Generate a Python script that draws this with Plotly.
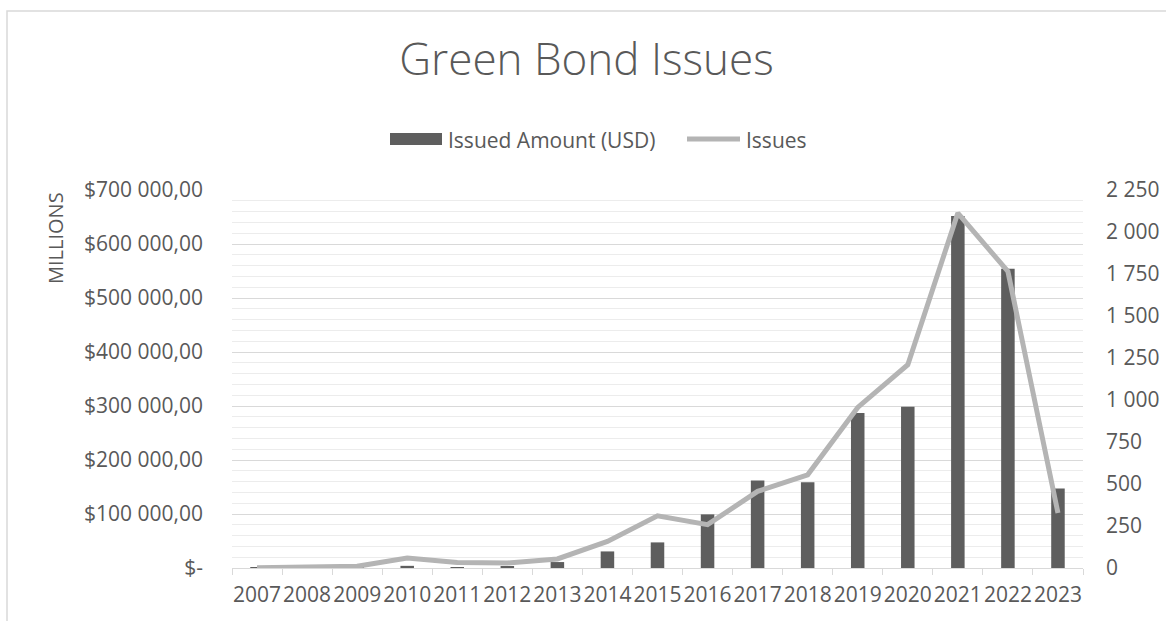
import plotly.graph_objects as go

years = [str(y) for y in range(2007, 2024)]
issued_amount = [800, 400, 900, 4000, 1500, 2000, 11000, 30700, 47400, 99300,
                 162000, 159000, 287000, 298700, 652000, 554000, 147000]
issues = [2, 3, 10, 60, 33, 30, 54, 158, 311, 258, 456, 555, 956, 1210,
          2113, 1765, 327]

left_vals = [0, 100000, 200000, 300000, 400000, 500000, 600000, 700000]
left_text = ["$-", "$100 000,00", "$200 000,00", "$300 000,00", "$400 000,00",
             "$500 000,00", "$600 000,00", "$700 000,00"]
right_vals = [0, 250, 500, 750, 1000, 1250, 1500, 1750, 2000, 2250]
right_text = ["0", "250", "500", "750", "1 000", "1 250", "1 500", "1 750",
              "2 000", "2 250"]

FONT = "Open Sans"
TXT = "#595959"
BAR_C = "#5e5e5e"
LINE_C = "#b4b4b4"

# plot area in pixels: x 232..1083, y 190..568
def px(x):
    return (x - 232) / 851

def py(y):
    return (568 - y) / 378

fig = go.Figure()
fig.add_trace(go.Bar(x=years, y=issued_amount, name="Issued Amount (USD)",
                     marker=dict(color=BAR_C, line=dict(width=0)),
                     width=0.27, yaxis="y"))
fig.add_trace(go.Scatter(x=years, y=issues, name="Issues", mode="lines",
                         line=dict(color=LINE_C, width=5),
                         yaxis="y2"))

fig.update_layout(
    width=1166, height=621,
    margin=dict(l=232, r=83, t=190, b=53, autoexpand=False),
    paper_bgcolor="white", plot_bgcolor="white",
    font=dict(family=FONT, size=21, color=TXT),
    title=dict(text="Green Bond Issues", x=0.503, xref="container",
               xanchor="center", y=1 - 60 / 621, yanchor="middle",
               font=dict(family=FONT, size=44, color=TXT, weight=300)),
    showlegend=False,
    xaxis=dict(type="category", tickson="boundaries", ticks="outside",
               ticklen=6, tickcolor="#d9d9d9", showline=True,
               linecolor="#d9d9d9", showgrid=False, tickangle=0,
               automargin=False,
               tickfont=dict(size=21, color=TXT), ticklabelstandoff=8),
    yaxis=dict(range=[0, 700000], tickvals=left_vals, ticktext=left_text,
               showgrid=True, gridcolor="#d9d9d9", gridwidth=1,
               zeroline=False, showline=False, ticks="", automargin=False,
               ticklabelstandoff=28,
               minor=dict(dtick=20000, tick0=0, showgrid=True,
                          gridcolor="#ececec", gridwidth=1)),
    yaxis2=dict(range=[0, 2250], tickvals=right_vals, ticktext=right_text,
                overlaying="y", side="right", showgrid=False,
                zeroline=False, showline=False, ticks="", automargin=False,
                ticklabelstandoff=22),
)

# legend drawn manually to match the wide swatches
fig.add_shape(type="rect", xref="paper", yref="paper",
              x0=px(390), x1=px(442), y0=py(145), y1=py(133),
              fillcolor=BAR_C, line=dict(width=0))
fig.add_annotation(text="Issued Amount (USD)", xref="paper", yref="paper",
                   x=px(446), y=py(140), xanchor="left", yanchor="middle",
                   showarrow=False, font=dict(size=21, color=TXT, family=FONT))
fig.add_shape(type="line", xref="paper", yref="paper",
              x0=px(687), x1=px(740), y0=py(139), y1=py(139),
              line=dict(color=LINE_C, width=5))
fig.add_annotation(text="Issues", xref="paper", yref="paper",
                   x=px(744), y=py(140), xanchor="left", yanchor="middle",
                   showarrow=False, font=dict(size=21, color=TXT, family=FONT))

fig.add_annotation(text="MILLIONS", xref="paper", yref="paper",
                   x=px(55), y=1.0, xanchor="center", yanchor="top",
                   textangle=-90, showarrow=False,
                   font=dict(size=20, color=TXT, family=FONT))

fig.add_shape(type="rect", xref="paper", yref="paper",
              x0=px(7), x1=1.2, y0=-0.3, y1=py(11),
              line=dict(color="#d9d9d9", width=1.5), layer="below")

fig.write_html("out.html")
